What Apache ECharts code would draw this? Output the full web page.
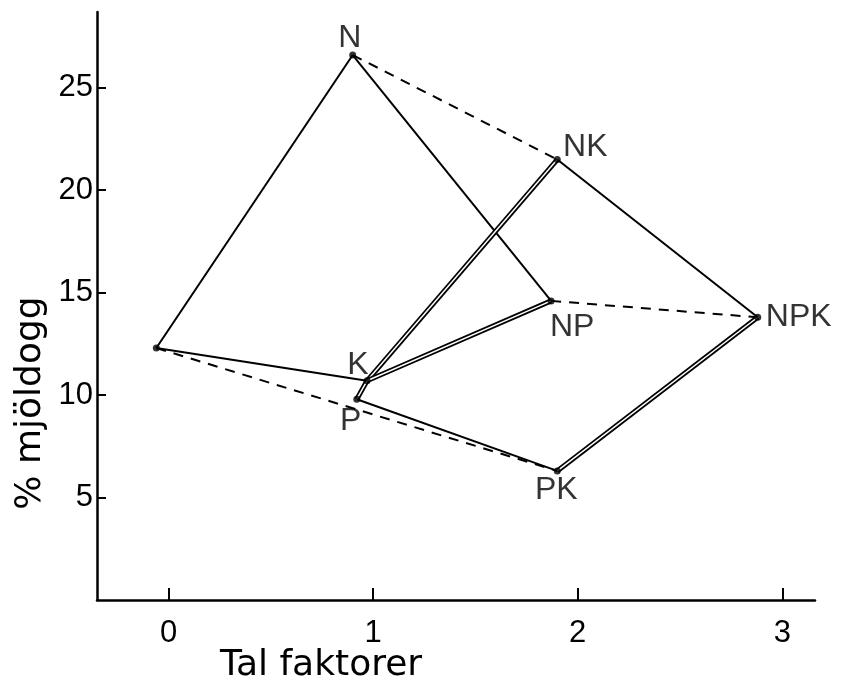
<!DOCTYPE html>
<html>
<head>
<meta charset="utf-8">
<script src="https://cdn.jsdelivr.net/npm/echarts@6/dist/echarts.min.js"></script>
<style>
	html, body { margin: 0; padding: 0; background: #fff; }
	#chart { width: 845px; height: 698px; }
</style>
</head>
<body>
<div id="chart"></div>
<script>
// points of the diagram (number of factors, % mildew)
const pointNames = ['0', 'N', 'P', 'K', 'NP', 'NK', 'PK', 'NPK'];
const pointX = [-0.06, 0.9, 0.92, 0.97, 1.87, 1.9, 1.9, 2.88];
const pointY = [12.3, 26.6, 9.8, 10.7, 14.6, 21.5, 6.3, 13.8];

// edges between points
const solidEdges = [['0', 'N'], ['N', 'NP'], ['0', 'K'], ['NK', 'NPK'], ['P', 'PK']];
const dashedEdges = [['N', 'NK'], ['NP', 'NPK'], ['0', 'PK']];
const doubleEdges = [['K', 'NK'], ['K', 'NP'], ['PK', 'NPK'], ['K', 'P']];

const xTicks = [0, 1, 2, 3];
const yTicks = [5, 10, 15, 20, 25];

// label offsets from the point (px)
const labelOffset = {
	'N': [-3, -17],
	'NK': [28, -12],
	'NP': [21, 26],
	'NPK': [41, 0],
	'K': [-9, -16],
	'P': [-6, 22],
	'PK': [-1, 19]
};

const pt = name => {
	const i = pointNames.indexOf(name);
	return [pointX[i], pointY[i]];
};

const font = 'Liberation Sans';
const series = [];

solidEdges.forEach(e => {
	series.push({
		type: 'line', data: [pt(e[0]), pt(e[1])], symbol: 'none', silent: true,
		lineStyle: { color: '#000', width: 2 }
	});
});
dashedEdges.forEach(e => {
	series.push({
		type: 'line', data: [pt(e[0]), pt(e[1])], symbol: 'none', silent: true,
		lineStyle: { color: '#000', width: 2, type: [10, 8] }
	});
});
doubleEdges.forEach(e => {
	series.push({
		type: 'line', data: [pt(e[0]), pt(e[1])], symbol: 'none', silent: true,
		lineStyle: { color: '#000', width: 5 }
	});
	series.push({
		type: 'line', data: [pt(e[0]), pt(e[1])], symbol: 'none', silent: true,
		lineStyle: { color: '#fff', width: 1.5 }
	});
});

series.push({
	type: 'scatter',
	symbolSize: 7,
	itemStyle: { color: '#000' },
	data: pointNames.map((n, i) => ({
		value: [pointX[i], pointY[i]],
		label: {
			show: n !== '0',
			formatter: n,
			position: 'inside',
			offset: labelOffset[n] || [0, 0],
			color: '#000',
			fontFamily: font,
			fontSize: 32
		}
	})),
	z: 10
});

var chartDom = document.getElementById('chart');
var myChart = echarts.init(chartDom, null, { renderer: 'canvas' });
var option = {
	animation: false,
	backgroundColor: '#fff',
	grid: { left: 97, right: 30, top: 12, bottom: 98 },
	xAxis: {
		type: 'value',
		min: -0.35,
		max: 3.16,
		splitLine: { show: false },
		axisLine: { onZero: false, lineStyle: { color: '#000', width: 2.5 } },
		axisTick: { show: true, inside: true, length: 12, customValues: xTicks, lineStyle: { color: '#000', width: 2 } },
		axisLabel: { customValues: xTicks, color: '#000', fontFamily: font, fontSize: 31, margin: 18 }
	},
	yAxis: {
		type: 'value',
		min: 0,
		max: 28.7,
		splitLine: { show: false },
		axisLine: { show: true, onZero: false, lineStyle: { color: '#000', width: 2.5 } },
		axisTick: { show: true, inside: true, length: 9, customValues: yTicks, lineStyle: { color: '#000', width: 2 } },
		axisLabel: { customValues: yTicks, color: '#000', fontFamily: font, fontSize: 31, margin: 4 }
	},
	graphic: [
		{
			type: 'text', x: 31, y: 403, rotation: Math.PI / 2,
			style: { text: '% mjöldogg', fill: '#000', font: '36px "DejaVu Sans"', align: 'center', verticalAlign: 'middle' }
		},
		{
			type: 'text', x: 321, y: 666,
			style: { text: 'Tal faktorer', fill: '#000', font: '36px "DejaVu Sans"', align: 'center', verticalAlign: 'middle' }
		}
	],
	series: series
};
option && myChart.setOption(option);
</script>
</body>
</html>
